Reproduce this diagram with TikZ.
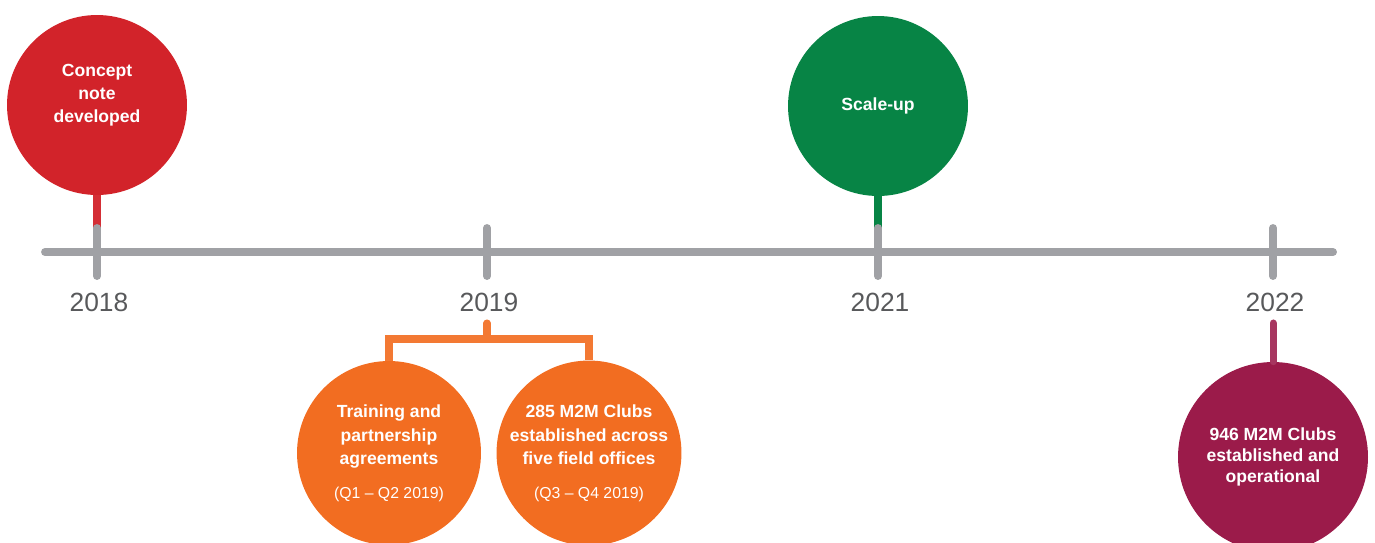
\documentclass[tikz,border=0pt]{standalone}
\usepackage{fontspec}
\setmainfont{Liberation Sans}
\usepackage{xcolor}
\usepackage{tikz}
\usetikzlibrary{positioning,calc}
\definecolor{axisgray}{RGB}{160,161,165}
\definecolor{yeargray}{RGB}{88,89,91}
\definecolor{conceptred}{RGB}{210,35,42}
\definecolor{scalegreen}{RGB}{7,132,69}
\definecolor{phaseorange}{RGB}{242,109,33}
\definecolor{clubmaroon}{RGB}{155,27,74}
\tikzset{
  axis/.style={draw=axisgray, line width=4.5pt, line cap=round},
  event/.style={
    circle,
    minimum size=3.6cm,
    inner sep=0pt,
    align=center,
    text=white,
    font=\fontsize{10}{13.5}\selectfont\bfseries
  },
  eventtext/.style={
    align=center,
    text=white,
    font=\fontsize{10}{13}\selectfont\bfseries
  },
  year/.style={text=yeargray, font=\fontsize{15}{18}\selectfont},
  stem/.style={line width=4pt},
  fork/.style={draw=phaseorange!92!white, line width=4pt}
}
\newcommand{\quarter}[1]{\\[5.5pt]{\fontsize{9}{11}\selectfont\mdseries #1}}

\begin{document}
\begin{tikzpicture}[x=0.02cm,y=-0.02cm]
  \useasboundingbox (0,0) rectangle (1375,542);
  \clip (0,0) rectangle (1375,542);

  % events
  \node[event, fill=conceptred] (concept) at (97,105) {};
  \node[eventtext] (concepttxt) at (97,95) {Concept\\note\\developed};
  \node[event, fill=scalegreen] (scale) at (878,106) {Scale-up};
  \node[event, fill=phaseorange, minimum size=3.68cm] (train) at (389,453)
    {Training and\\partnership\\agreements\quarter{(Q1 -- Q2 2019)}};
  \node[event, fill=phaseorange, minimum size=3.68cm] (clubs) at (589,453)
    {285 M2M Clubs\\established across\\five field offices\quarter{(Q3 -- Q4 2019)}};
  \node[event, fill=clubmaroon, minimum size=3.8cm, font=\fontsize{10}{12}\selectfont\bfseries]
    (operational) at (1273,457) {946 M2M Clubs\\established and\\operational};

  % years
  \foreach \x/\yr in {97/2018,487/2019,878/2021,1273/2022}{
    \coordinate (top\yr) at (\x,232);
    \node[year] (y\yr) at ($(\x,302)+(2,0)$) {\yr};
  }

  % stems
  \draw[stem, conceptred!95!white] (concept.south) -- (top2018);
  \draw[stem, scalegreen] (scale.south) -- (top2021);
  \draw[stem, clubmaroon!88!white, line cap=round] (1273,323) -- (operational.north);
  \coordinate (split) at (487,339);
  \draw[fork, line cap=round] (487,323) -- (split);
  \draw[fork] (train.north) |- (split) -| (clubs.north);

  % time axis
  \draw[axis] (45,252) -- (1333,252);
  \foreach \x in {97,487,878,1273}
    \draw[axis] (\x,228) -- (\x,276);
\end{tikzpicture}
\end{document}
